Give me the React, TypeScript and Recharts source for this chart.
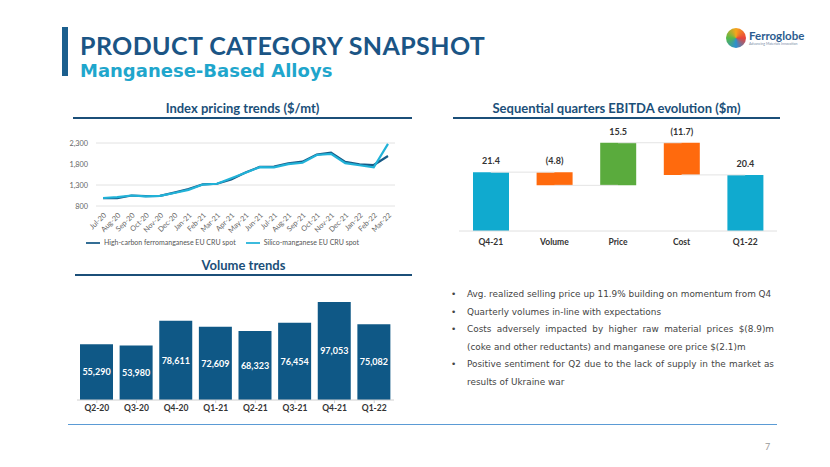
import {
  LineChart,
  Line,
  BarChart,
  Bar,
  XAxis,
  YAxis,
  CartesianGrid,
  Legend,
  LabelList,
  ReferenceLine,
  Cell,
} from "recharts";

// Index pricing trends ($/mt)
const months = [
  "Jul-20", "Aug-20", "Sep-20", "Oct-20", "Nov-20", "Dec-20", "Jan-21",
  "Feb-21", "Mar-21", "Apr-21", "May-21", "Jun-21", "Jul-21", "Aug-21",
  "Sep-21", "Oct-21", "Nov-21", "Dec-21", "Jan-22", "Feb-22", "Mar-22",
];
const hcFeMn = [
  985, 985, 1050, 1035, 1040, 1120, 1205, 1315, 1330, 1430, 1600, 1730,
  1740, 1815, 1855, 2025, 2070, 1850, 1790, 1775, 1990,
];
const siMn = [
  990, 1010, 1050, 1030, 1040, 1110, 1185, 1310, 1330, 1460, 1590, 1725,
  1720, 1795, 1830, 2015, 2040, 1820, 1770, 1720, 2280,
];
const priceTicks = [800, 1300, 1800, 2300];

// Sequential quarters EBITDA evolution ($m)
const bridgeSteps = ["Q4-21", "Volume", "Price", "Cost", "Q1-22"];
const bridgeValues = [21.4, -4.8, 15.5, -11.7, 20.4];
const bridgeLabels = ["21.4", "(4.8)", "15.5", "(11.7)", "20.4"];
const bridgeColors = ["#10aacf", "#ff6a0d", "#5aab3d", "#ff6a0d", "#10aacf"];

// Volume trends
const quarters = ["Q2-20", "Q3-20", "Q4-20", "Q1-21", "Q2-21", "Q3-21", "Q4-21", "Q1-22"];
const volumes = [55290, 53980, 78611, 72609, 68323, 76454, 97053, 75082];

// commentary, one entry per bullet, split where the slide wraps
const bullets = [
  ["Avg. realized selling price up 11.9% building on momentum from Q4"],
  ["Quarterly volumes in-line with expectations"],
  [
    "Costs adversely impacted by higher raw material prices $(8.9)m",
    "(coke and other reductants) and manganese ore price $(2.1)m",
  ],
  [
    "Positive sentiment for Q2 due to the lack of supply in the market as",
    "results of Ukraine war",
  ],
];

const priceData = months.map((m, i) => ({ month: m, hc: hcFeMn[i], si: siMn[i] }));

let running = 0;
const bridgeData = bridgeSteps.map((step, i) => {
  const v = bridgeValues[i];
  const isTotal = i === 0 || i === bridgeSteps.length - 1;
  let base: number;
  let end: number;
  if (isTotal) {
    base = 0;
    end = v;
    running = v;
  } else {
    base = v < 0 ? running + v : running;
    end = running + v;
    running = end;
  }
  return { step, base, size: Math.abs(v), end, label: bridgeLabels[i] };
});

const volumeData = quarters.map((q, i) => ({ q, v: volumes[i] }));

const FONT = "Lato, 'Open Sans', sans-serif";
const WIDE = "'DejaVu Sans', Verdana, sans-serif";
const NAVY = "#1b4f79";

function SectionTitle({ text, left, top, width }: { text: string; left: number; top: number; width: number }) {
  return (
    <div
      style={{
        position: "absolute",
        left,
        top,
        width,
        textAlign: "center",
        fontFamily: FONT,
        fontWeight: 700,
        fontSize: 13,
        color: NAVY,
        borderBottom: `2px solid ${NAVY}`,
        paddingBottom: 1,
        lineHeight: "16px",
      }}
    >
      {text}
    </div>
  );
}

export default function App() {
  const connectors = bridgeData.slice(0, -1).map((d, i) => ({
    from: d.step,
    to: bridgeData[i + 1].step,
    y: d.end,
  }));

  return (
    <div
      style={{
        position: "absolute",
        left: 0,
        top: 0,
        width: 830,
        height: 467,
        background: "#ffffff",
        fontFamily: FONT,
        overflow: "hidden",
      }}
    >
      {/* header */}
      <div style={{ position: "absolute", left: 62, top: 27, width: 6, height: 49, background: "#1b5f8e" }} />
      <div
        style={{
          position: "absolute",
          left: 80,
          top: 30,
          fontSize: 25,
          fontWeight: 700,
          color: "#1b5585",
          letterSpacing: 0.4,
          lineHeight: "30px",
        }}
      >
        PRODUCT CATEGORY SNAPSHOT
      </div>
      <div
        style={{
          position: "absolute",
          left: 80,
          top: 59,
          fontFamily: WIDE,
          fontSize: 18,
          fontWeight: 700,
          color: "#1fa6cc",
          lineHeight: "24px",
        }}
      >
        Manganese-Based Alloys
      </div>
      <div style={{ position: "absolute", left: 726, top: 28, display: "flex", alignItems: "center" }}>
        <div
          style={{
            width: 20,
            height: 20,
            borderRadius: 10,
            background: "conic-gradient(#f7a51c, #e9423a, #2b8fd1, #57b947, #f7a51c)",
          }}
        />
        <div style={{ marginLeft: 3 }}>
          <div style={{ fontSize: 11.5, fontWeight: 700, color: "#2c5c8f", lineHeight: "12px" }}>Ferroglobe</div>
          <div style={{ fontSize: 3.5, color: "#7a8ea6", lineHeight: "5px" }}>Advancing Materials Innovation</div>
        </div>
      </div>

      <SectionTitle text="Index pricing trends ($/mt)" left={73} top={100} width={339} />
      <SectionTitle text="Sequential quarters EBITDA evolution ($m)" left={453} top={100} width={327} />
      <SectionTitle text="Volume trends" left={75} top={257} width={337} />

      {/* index pricing line chart */}
      <div style={{ position: "absolute", left: 60, top: 135 }}>
        <LineChart
          width={340}
          height={115}
          data={priceData}
          margin={{ top: 8, right: 5, left: 0, bottom: 0 }}
        >
          <CartesianGrid vertical={false} stroke="#e2e2e2" strokeWidth={1} />
          <XAxis
            dataKey="month"
            interval={0}
            angle={-45}
            textAnchor="end"
            height={30}
            tickLine={false}
            axisLine={false}
            padding={{ left: 7, right: 7 }}
            tick={{ fontSize: 7.3, fill: "#666666", fontFamily: FONT, dy: -2 }}
          />
          <YAxis
            domain={[800, 2300]}
            ticks={priceTicks}
            width={36}
            tickLine={false}
            axisLine={false}
            tickFormatter={(v: number) => v.toLocaleString("en-US")}
            tick={{ fontSize: 7.3, fill: "#666666", fontFamily: FONT }}
          />
          <Legend
            verticalAlign="bottom"
            height={14}
            iconType="plainline"
            iconSize={14}
            wrapperStyle={{ fontSize: 7, fontFamily: FONT, color: "#555555" }}
            formatter={(value: string) => <span style={{ color: "#555555" }}>{value}</span>}
          />
          <Line
            type="linear"
            dataKey="hc"
            name="High-carbon ferromanganese EU CRU spot"
            stroke="#175a86"
            strokeWidth={2.2}
            dot={false}
            isAnimationActive={false}
          />
          <Line
            type="linear"
            dataKey="si"
            name="Silico-manganese EU CRU spot"
            stroke="#21b2d8"
            strokeWidth={2.2}
            dot={false}
            isAnimationActive={false}
          />
        </LineChart>
      </div>

      {/* EBITDA bridge */}
      <div style={{ position: "absolute", left: 450, top: 120 }}>
        <BarChart
          width={330}
          height={135}
          data={bridgeData}
          margin={{ top: 1, right: 3, left: 9, bottom: 0 }}
          barSize={36}
        >
          <XAxis
            dataKey="step"
            height={24}
            tickLine={false}
            axisLine={{ stroke: "#e0e0e0" }}
            tick={{ fontSize: 8.5, fontWeight: 700, fill: "#333333", fontFamily: FONT }}
          />
          <YAxis hide domain={[0, 40]} />
          {connectors.map((c) => (
            <ReferenceLine
              key={c.from}
              segment={[
                { x: c.from, y: c.y },
                { x: c.to, y: c.y },
              ]}
              stroke="#e4e4e4"
              strokeWidth={1}
            />
          ))}
          <Bar dataKey="base" stackId="w" fill="transparent" isAnimationActive={false} />
          <Bar dataKey="size" stackId="w" isAnimationActive={false}>
            {bridgeData.map((d, i) => (
              <Cell key={d.step} fill={bridgeColors[i]} />
            ))}
            <LabelList
              dataKey="label"
              position="top"
              offset={8}
              style={{ fontSize: 9, fontWeight: 700, fill: "#333333", fontFamily: FONT }}
            />
          </Bar>
        </BarChart>
      </div>

      {/* volume trends */}
      <div style={{ position: "absolute", left: 67, top: 280 }}>
        <BarChart
          width={335}
          height={142}
          data={volumeData}
          margin={{ top: 9, right: 8, left: 10, bottom: 0 }}
          barSize={33}
        >
          <XAxis
            dataKey="q"
            height={22}
            tickLine={{ stroke: "#d0d0d0" }}
            tickSize={3}
            axisLine={{ stroke: "#d0d0d0" }}
            tick={{ fontSize: 8.5, fontWeight: 700, fill: "#333333", fontFamily: FONT }}
          />
          <YAxis hide domain={[0, 110000]} />
          <Bar dataKey="v" fill="#0f5886" isAnimationActive={false}>
            <LabelList
              dataKey="v"
              position="center"
              formatter={(v: number) => v.toLocaleString("en-US")}
              style={{ fontSize: 9, fontWeight: 700, fill: "#ffffff", fontFamily: FONT }}
            />
          </Bar>
        </BarChart>
      </div>

      {/* commentary */}
      <div
        style={{
          position: "absolute",
          left: 448,
          top: 286,
          width: 326,
          fontFamily: WIDE,
          fontSize: 8.9,
          color: "#444444",
          lineHeight: "17.6px",
        }}
      >
        {bullets.map((lines) => (
          <div key={lines[0]} style={{ display: "flex" }}>
            <span style={{ width: 16, flexShrink: 0, paddingLeft: 3 }}>•</span>
            <div style={{ flex: 1 }}>
              {lines.map((ln, j) => (
                <div
                  key={ln}
                  style={{
                    whiteSpace: "nowrap",
                    textAlign: "justify",
                    textAlignLast: j < lines.length - 1 ? "justify" : "left",
                  }}
                >
                  {ln}
                </div>
              ))}
            </div>
          </div>
        ))}
      </div>

      <div style={{ position: "absolute", left: 68, top: 424, width: 709, height: 1, background: "#5b9bd5" }} />
      <div style={{ position: "absolute", left: 765, top: 441, fontSize: 9, color: "#999999" }}>7</div>
    </div>
  );
}
